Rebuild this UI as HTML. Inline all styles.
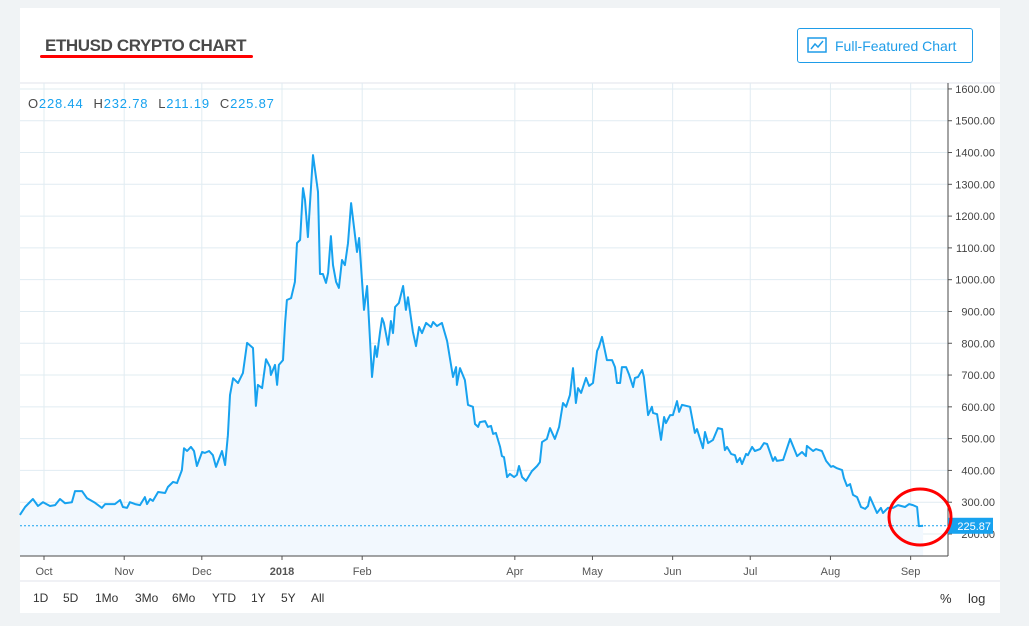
<!DOCTYPE html>
<html><head><meta charset="utf-8"><style>
body{margin:0;width:1029px;height:626px;background:#f0f3f5;font-family:"Liberation Sans",sans-serif;overflow:hidden;position:relative}
#panel{position:absolute;left:20px;top:8px;width:980px;height:605px;background:#fff}
#title{position:absolute;left:45px;top:36px;font-size:17px;font-weight:bold;color:#4a4a4a;letter-spacing:-0.4px}
#uline{position:absolute;left:40px;top:55px;width:213px;height:3px;background:#f00;border-radius:2px}
#btn{position:absolute;left:797px;top:28px;width:176px;height:35px;border:1px solid #1e9ce8;border-radius:3px;color:#1e9ce8;font-size:14px;box-sizing:border-box}
#btn span{position:absolute;left:37px;top:9px}
.bb{position:absolute;top:591px;font-size:12px;color:#333}
</style></head><body>
<div id="panel"></div>
<div id="title">ETHUSD CRYPTO CHART</div>
<div id="uline"></div>
<div id="btn">
<svg width="22" height="18" style="position:absolute;left:9px;top:8px"><rect x="1" y="1" width="18" height="14" fill="none" stroke="#1e9ce8" stroke-width="1.5"/><polyline points="4,12 8,7 11,10 16,4" fill="none" stroke="#1e9ce8" stroke-width="1.5"/></svg>
<span>Full-Featured Chart</span></div>
<svg id="chart" width="1029" height="626" style="position:absolute;left:0;top:0"></svg>
<div class="bb" style="left:33px">1D</div>
<div class="bb" style="left:63px">5D</div>
<div class="bb" style="left:95px">1Mo</div>
<div class="bb" style="left:135px">3Mo</div>
<div class="bb" style="left:172px">6Mo</div>
<div class="bb" style="left:212px">YTD</div>
<div class="bb" style="left:251px">1Y</div>
<div class="bb" style="left:281px">5Y</div>
<div class="bb" style="left:311px">All</div>
<div class="bb" style="left:940px;font-size:13px">%</div>
<div class="bb" style="left:968px;font-size:13px">log</div>
<script>
const days=[-9.3,-7.3,-4.3,-2.3,-0.4,2.3,4.3,6.2,8.1,10.8,12,14.7,16.6,19.7,22.4,23.6,27.4,29.4,30.5,32.1,33.2,35.2,37.1,39,39.8,41,42.1,44.1,46.8,47.9,49.9,51.4,53.3,54.1,55.3,56.8,58,59.1,61.1,62.2,63.8,65.3,66.5,68.8,70,71.1,71.9,73.1,75,76.9,78.5,80.8,81.9,82.7,84.3,85.8,87.4,87.7,89.3,90.1,90.8,92.4,93.2,93.9,95.5,97,97.8,99,100.1,100.9,102,104,105.9,106.7,107.8,109,109.8,110.9,111.7,112.9,114,115.2,116.3,117.5,118.7,121,121.8,123.7,124.9,126.8,128,128.7,129.9,130.7,131.4,133,134.1,134.9,135.7,137.2,138.8,139.9,140.7,142.6,143.8,145,146.1,147.7,149.6,150.4,151.9,153.8,155.8,158.1,159.3,159.6,160.8,162.7,163.9,165.8,166.6,167.8,168.5,170.5,171.6,172.8,173.6,174.7,176.3,177,177.8,179,180.1,181.7,182.8,183.6,184.8,186.3,188.6,190.6,191.7,192.5,194.4,195.6,197.5,199.1,200.6,201.8,203.3,204.5,205.6,206.4,207.6,209.5,210.7,212.2,213.8,214.5,215.7,217.6,219.6,220.7,221.5,222.7,223.4,225,226.1,227.7,228.4,229.6,231.2,231.9,233.5,235,235.4,237,238.5,239.7,240.4,242,243.1,244.7,245.5,246.6,249.7,251.6,252.4,254.7,255.5,256.7,258.6,260.5,262.1,263.2,264,265.6,267.1,267.9,269,269.8,271.4,272.1,273.7,274.8,276.8,278.3,279.5,281.8,282.6,283.3,285.7,288.4,291.1,293,294.5,294.9,297.3,298.4,300.7,302.3,304.2,305,306.5,308.5,309.2,310.4,311.6,312.7,314.3,315.8,317.4,318.5,319.3,320.5,322,323.5,324.3,326.2,328.2,330.1,332.8,334.4,335.9,337.5,338.2,339.8];
const prices=[260,285,310,288,300,288,291,310,297,300,335,335,313,298,282,294,294,307,285,282,300,294,291,316,294,310,304,332,329,348,364,360,401,470,461,474,461,414,458,455,461,448,411,461,417,511,637,690,675,706,801,785,603,669,659,750,725,700,732,669,732,747,864,936,942,993,1115,1125,1288,1251,1134,1392,1276,1018,1018,990,1021,1137,1046,993,974,1062,1046,1115,1241,1087,1131,905,980,694,791,757,836,879,864,795,870,832,914,927,980,905,945,836,791,851,832,864,851,867,854,864,807,694,725,669,722,684,606,600,546,537,552,555,537,540,515,518,474,445,442,379,389,379,386,414,379,367,398,414,426,489,499,533,499,537,612,600,637,722,612,659,644,691,666,675,776,788,820,747,747,725,675,675,725,725,703,662,691,694,716,694,574,600,581,577,496,568,549,574,574,618,584,606,600,518,530,470,521,486,496,533,530,464,474,452,448,426,439,420,452,448,474,461,467,486,483,430,442,430,433,499,445,458,445,477,461,467,461,430,411,414,407,401,376,351,357,323,316,285,279,288,316,294,266,282,266,282,282,291,285,294,291,285,225,225.87];
const yTicks=[200,300,400,500,600,700,800,900,1000,1100,1200,1300,1400,1500,1600];
const monthDays=[0,31,61,92,123,151,182,212,243,273,304,335];
const monthLabels=["Oct","Nov","Dec","2018","Feb","Mar","Apr","May","Jun","Jul","Aug","Sep"];
const ohlcKeys=["O","H","L","C"];
const ohlcVals=["228.44","232.78","211.19","225.87"];
const lastPrice=225.87;

const NS="http://www.w3.org/2000/svg";
const svg=document.getElementById('chart');
const L=20,R=948,T=83,B=556;
const xS=d=>44+d*2.587;
const yS=p=>534-(p-200)*0.3179;
function mk(t,a,parent){const e=document.createElementNS(NS,t);for(const k in a)e.setAttribute(k,a[k]);(parent||svg).appendChild(e);return e;}
mk('line',{x1:20,y1:83,x2:1000,y2:83,stroke:'#e0e3eb'});
mk('line',{x1:20,y1:581,x2:1000,y2:581,stroke:'#e0e3eb'});
const grid=mk('g',{});


yTicks.forEach(v=>{const y=yS(v);
 const l=mk('line',{x1:L,y1:y,x2:R,y2:y,stroke:'#e1ecf2'},grid);
 
 
 mk('line',{x1:R,y1:y,x2:R+4,y2:y,stroke:'#555'});
 const t=mk('text',{x:995,y:y+4,'text-anchor':'end','font-size':'11',fill:'#444'});
 t.textContent=v.toFixed(2);
 
 
});
monthDays.forEach((d,i)=>{const x=xS(d);
 if(monthLabels[i]==="Mar")return;
 const l=mk('line',{x1:x,y1:T,x2:x,y2:B,stroke:'#e1ecf2'},grid);
 
 
 mk('line',{x1:x,y1:B,x2:x,y2:B+4,stroke:'#555'});
 const t=mk('text',{x:x,y:575,'text-anchor':'middle','font-size':'11',fill:'#555','font-weight':monthLabels[i]==="2018"?'bold':'normal'});
 t.textContent=monthLabels[i];
 
 
});
let pts=days.map((d,i)=>xS(d).toFixed(1)+','+yS(prices[i]).toFixed(1));
const area=mk('polygon',{points:pts.join(' ')+' '+xS(days[days.length-1]).toFixed(1)+','+B+' '+xS(days[0]).toFixed(1)+','+B,fill:'#f2f8fe'});


const line=mk('polyline',{points:pts.join(' '),fill:'none',stroke:'#17a2ef','stroke-width':'2','stroke-linejoin':'round'});


const ly=yS(lastPrice);
const dl=mk('line',{x1:L,y1:ly,x2:R,y2:ly,stroke:'#17a2ef','stroke-dasharray':'2,2'});


mk('line',{x1:R,y1:T,x2:R,y2:B,stroke:'#4a4a4a'});
mk('line',{x1:L,y1:B,x2:R,y2:B,stroke:'#4a4a4a'});
const lb=mk('rect',{x:R,y:ly-8,width:45,height:16,fill:'#17a2ef'});


const lt=mk('text',{x:991,y:ly+4,'text-anchor':'end','font-size':'11',fill:'#fff'});
lt.textContent=lastPrice.toFixed(2);
const circ=mk('ellipse',{cx:920,cy:517,rx:31,ry:28,fill:'none',stroke:'#f00','stroke-width':'3'});


const oh=mk('text',{x:28,y:108,'font-size':'13','letter-spacing':'0.8'});


ohlcKeys.forEach((k,i)=>{const a=mk('tspan',{fill:'#4a4a4a',dx:i?10:0},oh);a.textContent=k;const b=mk('tspan',{fill:'#17a2ef'},oh);b.textContent=ohlcVals[i];});
</script>
</body></html>
